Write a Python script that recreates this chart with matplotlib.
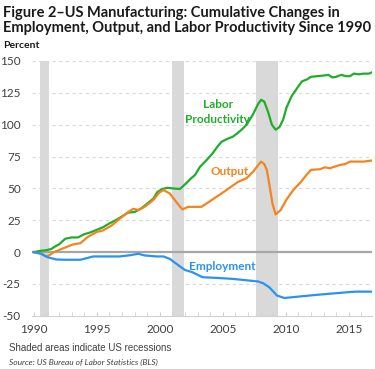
import matplotlib
matplotlib.use("Agg")
import matplotlib.pyplot as plt

prod_t = [1990.0, 1990.5, 1991.0, 1991.4, 1991.7, 1992.0, 1992.5, 1993.0, 1993.5, 1994.0, 1994.5,
          1995.0, 1995.5, 1996.0, 1996.5, 1997.0, 1997.5, 1998.0, 1998.5, 1999.0, 1999.5, 1999.8,
          2000.2, 2000.6, 2001.0, 2001.6, 2002.1, 2002.5, 2002.8, 2003.2, 2003.7, 2004.2, 2004.6,
          2004.9, 2005.4, 2005.8, 2006.2, 2006.6, 2006.9, 2007.4, 2007.8, 2008.05, 2008.3, 2008.6,
          2008.9, 2009.2, 2009.5, 2009.8, 2010.05, 2010.45, 2011.0, 2011.3, 2011.7, 2012.0, 2012.5,
          2013.0, 2013.4, 2013.7, 2014.0, 2014.4, 2014.8, 2015.1, 2015.4, 2015.8, 2016.2, 2016.6, 2016.85]
prod_v = [0, 1, 1.5, 2.5, 4.5, 6, 10.5, 11.5, 11.5, 14, 15.5,
          17.5, 19.5, 22.5, 25, 28, 31, 31.5, 34, 38, 42, 47,
          49.5, 50.5, 50, 49.5, 54, 58, 60.5, 67, 72, 77.5, 83,
          86.5, 89, 90.5, 93.5, 97, 100, 108, 116, 119.5, 118, 110,
          100, 96, 98, 104, 113, 122, 130, 134, 135.5, 137.5, 138,
          138.5, 139, 137, 137.5, 139, 138, 138, 140, 139.5, 140, 140, 141]

out_t = [1990.0, 1990.5, 1991.0, 1991.3, 1991.6, 1992.1, 1992.6, 1993.1, 1993.7, 1994.3, 1995.0,
         1995.5, 1996.2, 1996.8, 1997.5, 1997.9, 1998.3, 1998.8, 1999.5, 2000.0, 2000.3, 2000.8,
         2001.3, 2001.8, 2002.25, 2002.8, 2003.3, 2004.0, 2004.9, 2005.6, 2006.2, 2006.9, 2007.4,
         2007.8, 2008.05, 2008.3, 2008.5, 2008.7, 2008.95, 2009.2, 2009.6, 2010.05, 2010.6, 2011.2,
         2011.6, 2012.0, 2012.7, 2013.1, 2013.5, 2014.3, 2014.7, 2015.1, 2015.6, 2016.2, 2016.8]
out_v = [0, -1, -3.5, -2, 0, 2, 4, 6, 7, 12, 15.8,
         17, 21, 26, 31.5, 34, 33, 35.5, 41, 47, 48.7, 46,
         39.5, 33.5, 35.5, 35.5, 35.5, 40, 46, 50.8, 55, 58, 63,
         68, 71, 69, 64.5, 53, 38, 29.5, 33, 41, 48.7, 55,
         60, 64.5, 65, 66.5, 65.8, 68.4, 69, 71, 71, 71, 71.8]

emp_t = [1990.0, 1990.6, 1991.1, 1991.8, 1992.5, 1993.7, 1994.3, 1994.7, 1995.5, 1996.8, 1997.6,
         1998.3, 1998.8, 1999.7, 2000.3, 2000.8, 2001.3, 2002.0, 2002.6, 2003.4, 2004.5, 2005.8,
         2007.1, 2007.8, 2008.2, 2008.7, 2009.3, 2009.9, 2011.2, 2012.6, 2013.9, 2015.5, 2016.8]
emp_v = [0, -1.3, -4, -5.8, -6, -6, -4.5, -3.4, -3.4, -3.4, -2.5,
         -1.3, -2.6, -3.4, -3.4, -5.3, -9, -14, -15.8, -19.7, -20.2, -21,
         -22.3, -23, -24.4, -27.6, -34, -36, -34.7, -33.4, -32.3, -31, -31]

recessions = [(1990.5, 1991.2), (2000.95, 2001.9), (2007.65, 2009.4)]
x_ticks = [1990, 1995, 2000, 2005, 2010, 2015]
y_ticks = [-50, -25, 0, 25, 50, 75, 100, 125, 150]

GREEN = "#1fae2a"
ORANGE = "#f5841f"
BLUE = "#2a93f0"
TXT = "#404040"
LAB = ["Lato", "DejaVu Sans"]

fig = plt.figure(figsize=(3.75, 3.69), dpi=100)
ax = fig.add_axes([0.085, 0.144, 0.907, 0.691])

for a, b in recessions:
    ax.axvspan(a, b, color="#d9d9d9", lw=0, zorder=0)
for y in y_ticks:
    if y not in (0, -50):
        ax.axhline(y, color="#d9d9d9", lw=0.8, ls=(0, (3, 3)), zorder=1)
ax.axhline(0, color="#a6a6a6", lw=1.6, zorder=2)

ax.plot(prod_t, prod_v, color=GREEN, lw=1.6, zorder=3)
ax.plot(out_t, out_v, color=ORANGE, lw=1.6, zorder=3)
ax.plot(emp_t, emp_v, color=BLUE, lw=1.6, zorder=3)

ax.text(2004.6, 116, "Labor", color=GREEN, fontsize=8.5, fontweight="bold", family=LAB, ha="center", va="center")
ax.text(2004.6, 104, "Productivity", color=GREEN, fontsize=8.5, fontweight="bold", family=LAB, ha="center", va="center")
ax.text(2005.55, 63, "Output", color=ORANGE, fontsize=8.5, fontweight="bold", family=LAB, ha="center", va="center")
ax.text(2005.0, -11, "Employment", color=BLUE, fontsize=8.5, fontweight="bold", family=LAB, ha="center", va="center")

ax.set_xlim(1989.85, 2016.85)
ax.set_ylim(-50, 150)
ax.set_xticks(x_ticks)
ax.set_xticks(range(1990, 2017), minor=True)
ax.set_yticks(y_ticks)
ax.set_xticklabels([str(x) for x in x_ticks], family=LAB, fontsize=8.5, color=TXT)
ax.set_yticklabels([str(y) if y >= 0 else "-" + str(-y) for y in y_ticks], family=LAB, fontsize=8.5, color=TXT)
ax.tick_params(axis="y", length=0, pad=8)
ax.tick_params(axis="x", which="both", length=3, color="#d0d0d0", direction="in", pad=6)
for s in ("top", "right", "left"):
    ax.spines[s].set_visible(False)
ax.spines["bottom"].set_color("#d0d0d0")
ax.spines["bottom"].set_linewidth(0.8)

fig.text(0.008, 0.985, "Figure 2\u2013US Manufacturing: Cumulative Changes in\nEmployment, Output, and Labor Productivity Since 1990",
         fontsize=10.5, fontweight="bold", family=LAB, color="#1a1a1a", va="top", ha="left", linespacing=1.15)
fig.text(0.008, 0.878, "Percent", fontsize=7.5, fontweight="bold", family=LAB, color="#1a1a1a", va="center")
fig.text(0.024, 0.057, "Shaded areas indicate US recessions", fontsize=7, family="Liberation Sans", color=TXT, va="center")
fig.text(0.024, 0.018, "Source: US Bureau of Labor Statistics (BLS)", fontsize=6, style="italic", family=LAB, color=TXT, va="center")

fig.savefig("out.png", dpi=100)
